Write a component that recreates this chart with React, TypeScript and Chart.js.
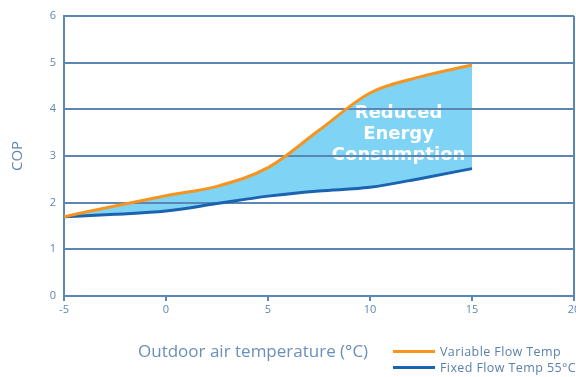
import React, { useEffect, useRef } from "react";
import { Chart, registerables } from "chart.js";

Chart.register(...registerables);

const temps = [-5, -2.5, 0, 2.5, 5, 7.5, 10, 12.5, 15];
const variableFlow = [1.7, 1.93, 2.15, 2.35, 2.75, 3.55, 4.35, 4.7, 4.95];
const fixedFlow = [1.7, 1.75, 1.82, 1.98, 2.14, 2.25, 2.33, 2.52, 2.73];
const yTicks = [0, 1, 2, 3, 4, 5, 6];
const xTicks = [-5, 0, 5, 10, 15, 20];
const annotationLines = ["Reduced", "Energy", "Consumption"];
const seriesNames = ["Variable Flow Temp", "Fixed Flow Temp 55°C"];

const ORANGE = "#f7941d";
const BLUE = "#1a63b0";
const FILL = "#7fd4f6";
const GRID = "#5b86b6";
const TEXT = "#5f85b2";
const FONT = "'Open Sans', 'DejaVu Sans', sans-serif";

export default function App() {
  const ref = useRef<HTMLCanvasElement | null>(null);

  useEffect(() => {
    if (!ref.current) return;
    const textPlugin = {
      id: "annotText",
      beforeDraw(chart: any) {
        const { ctx, scales } = chart;
        const cx = scales.x.getPixelForValue(11.4);
        const y0 = scales.y.getPixelForValue(3.92);
        ctx.save();
        ctx.fillStyle = "#ffffff";
        ctx.font = `bold 18px 'DejaVu Sans', sans-serif`;
        ctx.textAlign = "center";
        ctx.textBaseline = "middle";
        annotationLines.forEach((t, i) => ctx.fillText(t, cx, y0 + i * 21));
        ctx.restore();
      },
    };
    const chart = new Chart(ref.current, {
      type: "line",
      data: {
        datasets: [
          {
            label: seriesNames[0],
            data: temps.map((t, i) => ({ x: t, y: variableFlow[i] })),
            borderColor: ORANGE,
            borderWidth: 3,
            backgroundColor: FILL,
            fill: "+1",
            pointRadius: 0,
            cubicInterpolationMode: "monotone",
          },
          {
            label: seriesNames[1],
            data: temps.map((t, i) => ({ x: t, y: fixedFlow[i] })),
            borderColor: BLUE,
            borderWidth: 3,
            fill: false,
            pointRadius: 0,
            cubicInterpolationMode: "monotone",
          },
        ],
      },
      options: {
        animation: false,
        responsive: false,
        maintainAspectRatio: false,
        layout: { padding: { top: 16, right: 2, left: 0, bottom: 0 } },
        plugins: {
          legend: { display: false },
          tooltip: { enabled: false },
          filler: { drawTime: "beforeDraw" },
        } as any,
        scales: {
          x: {
            type: "linear",
            min: -5,
            max: 20,
            afterBuildTicks: (s: any) => {
              s.ticks = xTicks.map((v) => ({ value: v }));
            },
            afterFit: (s: any) => {
              s.height = 81;
              s.paddingRight = 0;
              s.paddingLeft = 0;
            },
            grid: {
              color: (c: any) =>
                c.index === xTicks.length - 1 ? GRID : "rgba(0,0,0,0)",
              tickColor: GRID,
              lineWidth: 2,
              tickLength: 5,
            },
            border: { color: GRID, width: 2 },
            ticks: {
              color: TEXT,
              font: { family: FONT, size: 11 },
              padding: 2,
              maxRotation: 0,
            },
          },
          y: {
            min: 0,
            max: 6,
            afterBuildTicks: (s: any) => {
              s.ticks = yTicks.map((v) => ({ value: v }));
            },
            afterFit: (s: any) => {
              s.width = 64;
            },
            grid: { color: GRID, lineWidth: 2, drawTicks: false },
            border: { color: GRID, width: 2 },
            ticks: {
              color: TEXT,
              font: { family: FONT, size: 11 },
              padding: 8,
            },
            title: {
              display: true,
              text: "COP",
              color: TEXT,
              font: { family: FONT, size: 15 },
              padding: { top: 9, bottom: 0 },
            },
          },
        },
      } as any,
      plugins: [textPlugin],
    });
    return () => chart.destroy();
  }, []);

  return (
    <div
      style={{
        position: "absolute",
        left: 0,
        top: 0,
        width: 576,
        height: 377,
        background: "#fff",
        fontFamily: FONT,
        overflow: "hidden",
      }}
    >
      <canvas ref={ref} width={576} height={377} style={{ display: "block" }} />
      <div
        style={{
          position: "absolute",
          left: 138,
          top: 341,
          fontSize: 17,
          color: "#6b8fba",
          whiteSpace: "nowrap",
          lineHeight: "20px",
        }}
      >
        Outdoor air temperature (°C)
      </div>
      {[ORANGE, BLUE].map((c, i) => (
        <div
          key={i}
          style={{
            position: "absolute",
            left: 393,
            top: 344 + i * 16,
            height: 14,
            display: "flex",
            alignItems: "center",
            whiteSpace: "nowrap",
          }}
        >
          <div style={{ width: 42, height: 3, background: c, marginRight: 5 }} />
          <span style={{ fontSize: 12.5, letterSpacing: 0.4, color: "#5a80b0" }}>
            {seriesNames[i]}
          </span>
        </div>
      ))}
    </div>
  );
}
